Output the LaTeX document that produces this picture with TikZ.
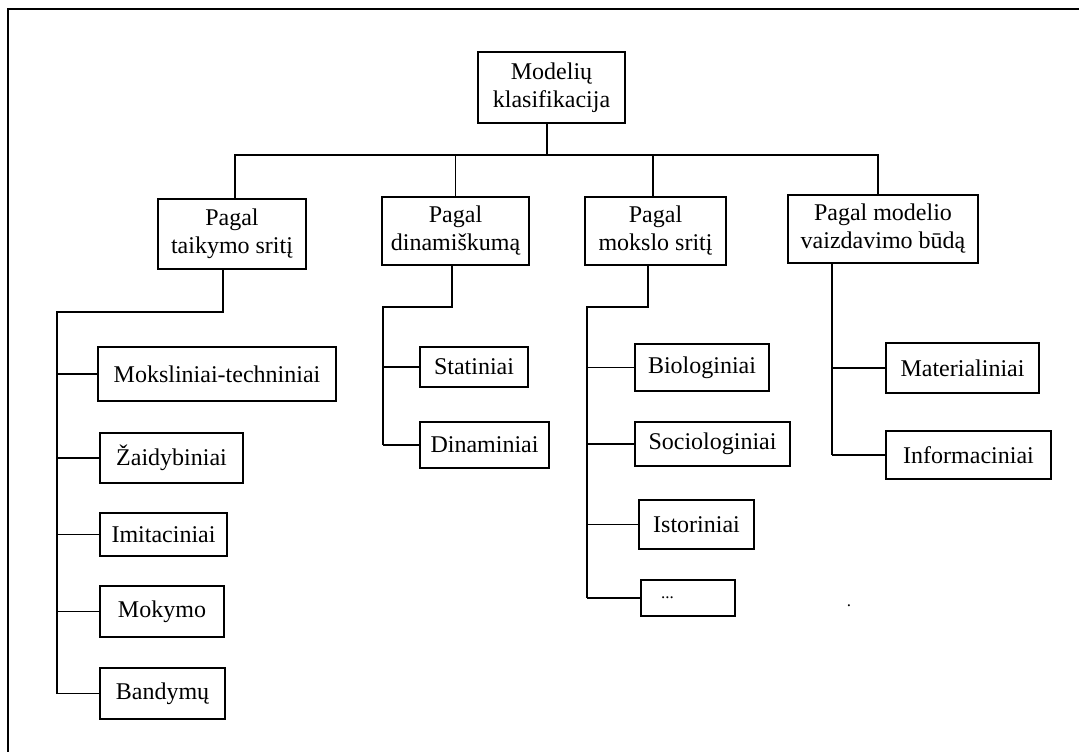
\documentclass[tikz,border=0pt]{standalone}
\usepackage{fontspec}
\setmainfont{Liberation Serif}
\usepackage{tikz}
\usetikzlibrary{positioning, calc}

\begin{document}
\begin{tikzpicture}[x=1pt, y=-1pt, font=\fontsize{24}{28}\selectfont, line width=1.2pt]

\useasboundingbox (0,0) rectangle (1079,752);
\draw[line width=2.7pt] (8,752) -- (8,9) -- (1079,9);

\tikzset{
  klbox/.style={draw, align=center, inner sep=0pt},
  dotfont/.style={font=\fontsize{17}{20}\selectfont}
}

% root and first level
\node[klbox, minimum width=147pt, minimum height=71pt] (root) at (551.5,87.5) {Modelių\\klasifikacija};
\node[klbox, minimum width=148pt, minimum height=70pt] (taik) at (232,234)   {Pagal\\taikymo sritį};
\node[klbox, minimum width=147pt, minimum height=68pt] (dina) at (455.5,231) {Pagal\\dinamiškumą};
\node[klbox, minimum width=141pt, minimum height=68pt] (moks) at (655.5,231) {Pagal\\mokslo sritį};
\node[klbox, minimum width=190pt, minimum height=68pt] (vaiz) at (883,229)   {Pagal modelio\\vaizdavimo būdą};

% leaves: taikymo sritis
\node[klbox, minimum width=238pt, minimum height=54pt] (mokt) at (217,374)   {Moksliniai-techniniai};
\node[klbox, minimum width=143pt, minimum height=50pt] (zaid) at (171.5,458) {Žaidybiniai};
\node[klbox, minimum width=127pt, minimum height=43pt] (imit) at (163.5,534.5) {Imitaciniai};
\node[klbox, minimum width=124pt, minimum height=51pt] (moky) at (162,611.5) {Mokymo};
\node[klbox, minimum width=125pt, minimum height=51pt] (band) at (162.5,693.5) {Bandymų};

% leaves: dinamiskumas
\node[klbox, minimum width=108pt, minimum height=40pt] (stat) at (474,367)   {Statiniai};
\node[klbox, minimum width=129pt, minimum height=46pt] (dinm) at (484.5,445) {Dinaminiai};

% leaves: mokslo sritis
\node[klbox, minimum width=134pt, minimum height=47pt] (biol) at (702,367.5) {Biologiniai};
\node[klbox, minimum width=155pt, minimum height=44pt] (soci) at (712.5,444) {Sociologiniai};
\node[klbox, minimum width=115pt, minimum height=49pt] (isto) at (696.5,524.5) {Istoriniai};
\node[klbox, dotfont, minimum width=94pt, minimum height=36pt, text width=54pt,
      align=left, inner xsep=20pt] (kiti) at (688,598) {...};

% leaves: vaizdavimo budas
\node[klbox, minimum width=153pt, minimum height=50pt] (mate) at (962.5,368) {Materialiniai};
\node[klbox, minimum width=165pt, minimum height=48pt] (info) at (968.5,455) {Informaciniai};

\node[dotfont, inner sep=0pt] (taskas) at (849,606) {.};

% root bus
\coordinate (bus) at (547,155);
\draw ([xshift=-4.5pt]root.south) -- (bus);
\draw ([xshift=3pt]taik.north) -- ([xshift=3pt]taik.north |- bus) -- ([xshift=-5pt]vaiz.north |- bus) -- ([xshift=-5pt]vaiz.north);
\draw (dina.north) -- (dina.north |- bus);
\draw ([xshift=-2.5pt]moks.north) -- ([xshift=-2.5pt]moks.north |- bus);

% branches
\coordinate (t1) at (57,312);
\draw ([xshift=-9pt]taik.south) |- (t1) -- (t1 |- band.west);
\draw (t1 |- mokt.west) -- (mokt.west);
\draw (t1 |- zaid.west) -- (zaid.west);
\draw (t1 |- imit.west) -- (imit.west);
\draw (t1 |- moky.west) -- (moky.west);
\draw (t1 |- band.west) -- (band.west);

\coordinate (t2) at (383,307);
\draw ([xshift=-3.5pt]dina.south) |- (t2) -- (t2 |- dinm.west);
\draw (t2 |- stat.west) -- (stat.west);
\draw (t2 |- dinm.west) -- (dinm.west);

\coordinate (t3) at (587,307);
\draw ([xshift=-7.5pt]moks.south) |- (t3) -- (t3 |- kiti.west);
\draw (t3 |- biol.west) -- (biol.west);
\draw (t3 |- soci.west) -- (soci.west);
\draw (t3 |- isto.west) -- (isto.west);
\draw (t3 |- kiti.west) -- (kiti.west);

\coordinate (t4) at (832,263);
\draw (t4) -- (t4 |- info.west);
\draw (t4 |- mate.west) -- (mate.west);
\draw (t4 |- info.west) -- (info.west);

\end{tikzpicture}
\end{document}
